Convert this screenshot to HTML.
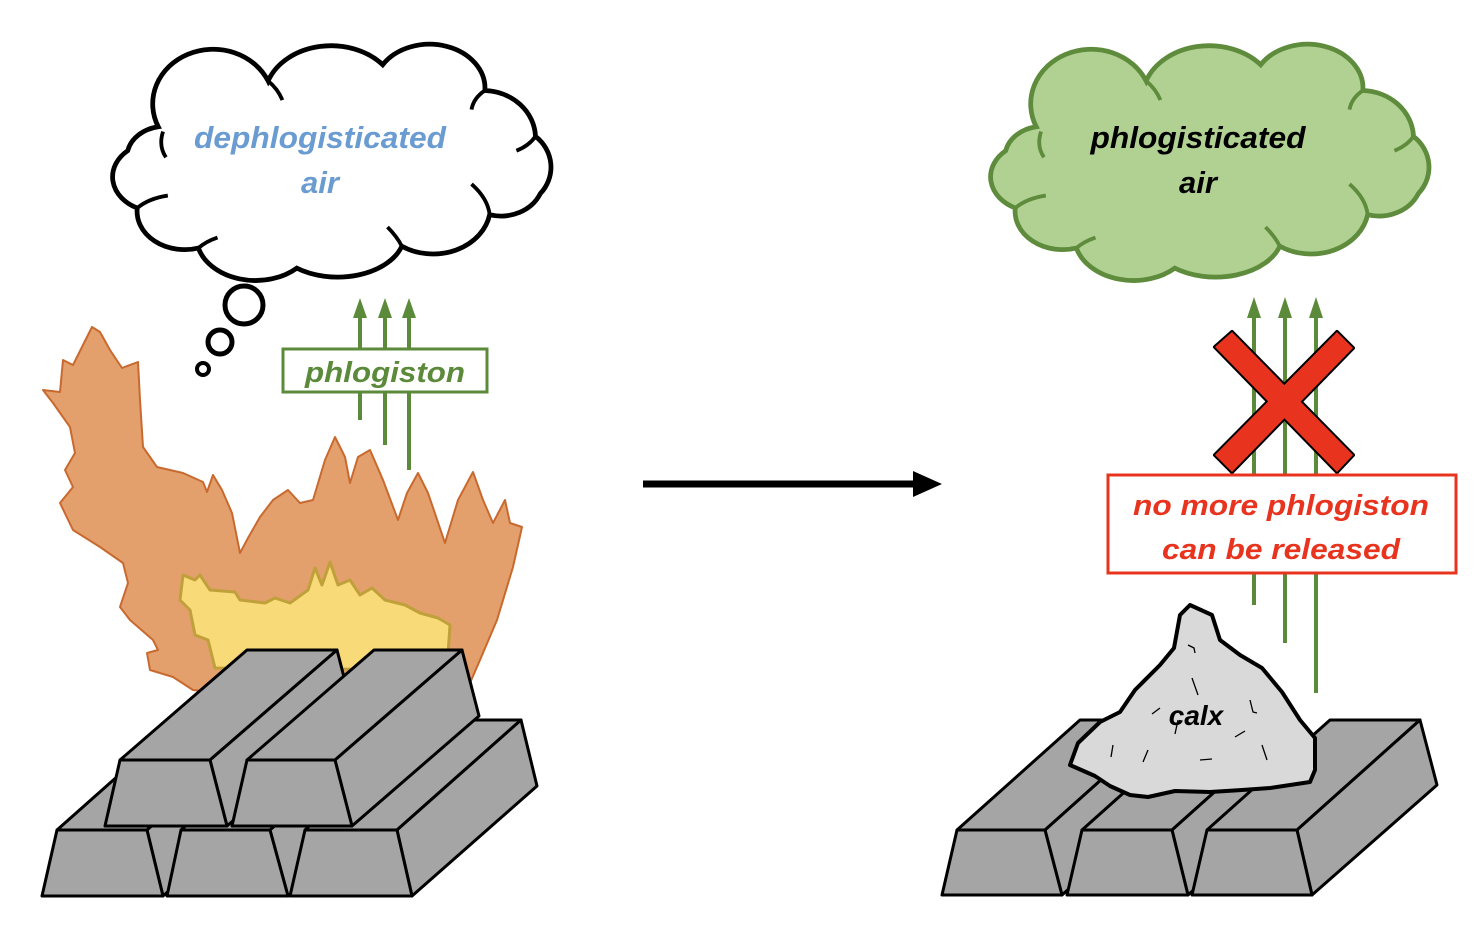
<!DOCTYPE html>
<html><head><meta charset="utf-8"><style>
html,body{margin:0;padding:0;background:#fff;}
svg{display:block;}
text{font-family:"Liberation Sans",sans-serif;font-weight:bold;font-style:italic;}
</style></head><body>
<svg width="1484" height="928" viewBox="0 0 1484 928" xmlns="http://www.w3.org/2000/svg">
<defs>
<path id="cloud" d="M150,120 A62,56 0 0 1 265,72 A70,55 0 0 1 385,55 A58,46 0 0 1 492,82 A55,50 0 0 1 545,130 A45,42 0 0 1 550,190 A45,40 0 0 1 497,212 A60,50 0 0 1 405,245 A70,45 0 0 1 295,268 A62,46 0 0 1 192,247 A50,40 0 0 1 128,205 A45,36 0 0 1 118,145 A40,32 0 0 1 150,120 Z"/>
<g id="bumps"><path d="M155,125 Q150,140 158,152 M265,72 Q275,80 280,92 M492,82 Q480,90 478,102 M545,130 Q538,140 525,145 M497,212 Q495,195 478,180 M405,245 Q400,235 390,225 M192,247 Q200,240 212,236 M128,205 Q140,195 160,192" fill="none" stroke-width="4"/></g>
</defs>
<!-- left cloud -->
<g transform="translate(334,165) scale(0.955) translate(-334,-160)">
<use href="#cloud" fill="#fff" stroke="#000" stroke-width="5"/>
<use href="#bumps" stroke="#000"/>
</g>
<text x="320" y="148" font-size="31" fill="#6a9bd1" text-anchor="middle" textLength="252" lengthAdjust="spacingAndGlyphs">dephlogisticated</text>
<text x="320" y="193" font-size="31" fill="#6a9bd1" text-anchor="middle">air</text>
<circle cx="244" cy="305" r="19" fill="none" stroke="#000" stroke-width="5"/>
<circle cx="220" cy="342" r="12" fill="none" stroke="#000" stroke-width="5"/>
<circle cx="203" cy="369" r="6" fill="none" stroke="#000" stroke-width="4"/>
<!-- right cloud -->
<g transform="translate(1212,165) scale(0.955) translate(-1212,-160) translate(878,0)">
<use href="#cloud" fill="#b0d192" stroke="#5e8c3c" stroke-width="5"/>
<use href="#bumps" stroke="#5e8c3c"/>
</g>
<text x="1198" y="148" font-size="31" fill="#000" text-anchor="middle" textLength="215" lengthAdjust="spacingAndGlyphs">phlogisticated</text>
<text x="1198" y="193" font-size="31" fill="#000" text-anchor="middle">air</text>
<!-- flames -->
<path d="M43,390 L60,392 L63,360 L73,365 L92,327 L100,332 L110,350 L122,368 L138,362 L140,400 L143,447 L157,467 L183,473 L203,482 L207,492 L213,475 L222,490 L232,513 L240,553 L248,538 L260,517 L273,500 L288,490 L300,503 L313,500 L325,460 L335,437 L345,457 L350,483 L358,457 L370,450 L383,480 L398,520 L407,493 L418,473 L428,493 L445,543 L458,500 L473,472 L483,500 L493,523 L505,500 L510,523 L522,527 L513,567 L497,620 L480,660 L470,683 L300,700 L193,690 L173,677 L150,670 L147,653 L158,650 L153,640 L130,620 L120,607 L128,583 L123,563 L100,547 L73,530 L60,503 L73,487 L65,470 L75,453 L70,427 L53,403 Z" fill="#e4a06c" stroke="#c86a30" stroke-width="2" stroke-linejoin="round"/>
<path d="M183,575 L195,580 L200,575 L210,590 L235,592 L240,600 L265,603 L275,598 L290,603 L308,590 L315,568 L322,585 L330,562 L338,585 L350,580 L360,595 L372,588 L385,600 L405,605 L420,613 L438,618 L450,625 L448,655 L440,670 L215,668 L208,640 L195,635 L190,610 L180,600 Z" fill="#f8da78" stroke="#c0a03a" stroke-width="3" stroke-linejoin="round"/>
<!-- phlogiston arrows left -->
<g stroke="#5b8a3a" stroke-width="4" fill="#5b8a3a">
<line x1="360" y1="420" x2="360" y2="312"/><line x1="385" y1="445" x2="385" y2="312"/><line x1="409" y1="470" x2="409" y2="312"/>
<polygon points="353,318 360,298 367,318" stroke="none"/><polygon points="378,318 385,298 392,318" stroke="none"/><polygon points="402,318 409,298 416,318" stroke="none"/>
</g>
<rect x="283" y="349" width="204" height="43" fill="#fff" stroke="#5b8a3a" stroke-width="3"/>
<text x="385" y="382" font-size="29" fill="#5b8a3a" text-anchor="middle" textLength="160" lengthAdjust="spacingAndGlyphs">phlogiston</text>
<!-- left ingots -->
<g fill="#a5a5a5" stroke="#000" stroke-width="3" stroke-linejoin="round">
<polygon points="57,830 181,720 271,720 147,830"/><polygon points="147,830 271,720 287,786 163,896"/><polygon points="57,830 147,830 163,896 42,896"/>
<polygon points="181,830 305,720 394,720 270,830"/><polygon points="270,830 394,720 412,786 288,896"/><polygon points="181,830 270,830 288,896 167,896"/>
<polygon points="305,830 429,720 521,720 397,830"/><polygon points="397,830 521,720 537,786 412,896"/><polygon points="305,830 397,830 412,896 290,896"/>
<polygon points="120,760 247,650 337,650 210,760"/><polygon points="210,760 337,650 354,716 227,826"/><polygon points="120,760 210,760 227,826 105,826"/>
<polygon points="247,760 374,650 462,650 335,760"/><polygon points="335,760 462,650 479,716 352,826"/><polygon points="247,760 335,760 352,826 232,826"/>
</g>
<!-- main arrow -->
<line x1="643" y1="484" x2="918" y2="484" stroke="#000" stroke-width="7"/>
<polygon points="913,471 942,484 913,497" fill="#000"/>
<!-- right ingots -->
<g fill="#a5a5a5" stroke="#000" stroke-width="3" stroke-linejoin="round">
<polygon points="957,830 1080,720 1168,720 1045,830"/><polygon points="1045,830 1168,720 1185,785 1062,895"/><polygon points="957,830 1045,830 1062,895 942,895"/>
<polygon points="1082,830 1205,720 1295,720 1172,830"/><polygon points="1172,830 1295,720 1311,785 1188,895"/><polygon points="1082,830 1172,830 1188,895 1067,895"/>
<polygon points="1207,830 1330,720 1420,720 1297,830"/><polygon points="1297,830 1420,720 1437,785 1312,895"/><polygon points="1207,830 1297,830 1312,895 1192,895"/>
</g>
<!-- right arrows -->
<g stroke="#5b8a3a" stroke-width="4" fill="#5b8a3a">
<line x1="1254" y1="605" x2="1254" y2="312"/><line x1="1285" y1="643" x2="1285" y2="312"/><line x1="1316" y1="693" x2="1316" y2="312"/>
<polygon points="1247,318 1254,297 1261,318" stroke="none"/><polygon points="1278,318 1285,297 1292,318" stroke="none"/><polygon points="1309,318 1316,297 1323,318" stroke="none"/>
</g>
<!-- calx -->
<path d="M1190,605 L1180,615 L1174,648 L1160,665 L1135,690 L1120,712 L1100,722 L1078,743 L1070,765 L1095,776 L1110,786 L1130,795 L1148,797 L1175,791 L1210,792 L1242,790 L1270,788 L1310,782 L1315,770 L1315,738 L1300,720 L1282,692 L1262,668 L1240,655 L1220,640 L1212,615 Z" fill="#d9d9d9" stroke="#000" stroke-width="4" stroke-linejoin="round"/>
<g stroke="#000" stroke-width="1.3" fill="none">
<path d="M1188,645 l6,3 l1,5 M1192,678 l6,17 M1160,708 l-8,6 M1250,700 l3,12 l4,1 M1178,720 l-3,14 M1113,745 l-2,12 M1148,750 l-5,12 M1235,737 l10,-6 M1200,760 l12,-1 M1262,745 l5,15"/>
</g>
<text x="1196" y="725" font-size="28" fill="#000" text-anchor="middle" font-weight="normal">calx</text>
<!-- red X -->
<g fill="#e8341f" stroke="#000" stroke-width="4" stroke-linejoin="round">
<polygon points="1215,347 1232,332 1353,455 1337,472"/><polygon points="1337,332 1353,348 1232,472 1215,455"/>
</g>
<g fill="#e8341f">
<polygon points="1215,347 1232,332 1353,455 1337,472"/><polygon points="1337,332 1353,348 1232,472 1215,455"/>
</g>
<rect x="1108" y="475" width="348" height="98" fill="#fff" stroke="#e8341f" stroke-width="3"/>
<text x="1281" y="515" font-size="29" fill="#e8341f" text-anchor="middle" textLength="296" lengthAdjust="spacingAndGlyphs">no more phlogiston</text>
<text x="1281" y="559" font-size="29" fill="#e8341f" text-anchor="middle" textLength="238" lengthAdjust="spacingAndGlyphs">can be released</text>
</svg>
</body></html>
